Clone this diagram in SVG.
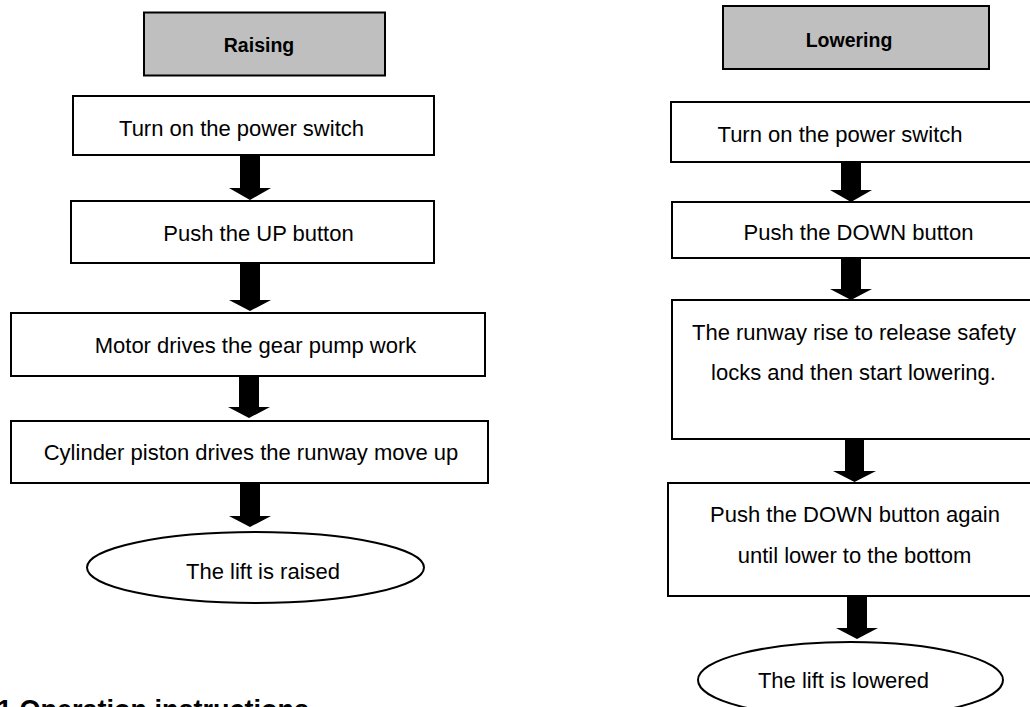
<svg xmlns="http://www.w3.org/2000/svg" width="1030" height="707" viewBox="0 0 1030 707">
<style>
.box{fill:#fff;stroke:#000;stroke-width:2}
.hdr{fill:#bfbfbf;stroke:#000;stroke-width:2}
.t{font-family:"Liberation Sans",Arial,sans-serif;font-size:22px;fill:#000;text-anchor:middle}
.h{font-family:"Liberation Sans",Arial,sans-serif;font-size:19.5px;font-weight:bold;fill:#000;text-anchor:middle}
.arr{fill:#000}
.title{font-family:"Liberation Sans",Arial,sans-serif;font-size:27px;font-weight:bold;fill:#000}
</style>
<rect width="1030" height="707" fill="#fff"/>
<g id="raising">
<rect class="hdr" x="144" y="12.5" width="241" height="63"/>
<text class="h" x="259" y="52">Raising</text>
</g>
<g id="r1">
<rect class="box" x="73" y="96" width="361" height="59"/>
<text class="t" x="241.5" y="136">Turn on the power switch</text>
</g>
<g id="r2">
<rect class="box" x="71" y="201" width="363" height="62"/>
<text class="t" x="258.5" y="241">Push the UP button</text>
</g>
<g id="r3">
<rect class="box" x="11" y="313" width="474" height="63"/>
<text class="t" x="255.5" y="353">Motor drives the gear pump work</text>
</g>
<g id="r4">
<rect class="box" x="11" y="421" width="477" height="62"/>
<text class="t" x="251" y="460">Cylinder piston drives the runway move up</text>
</g>
<g id="r5">
<ellipse class="box" cx="255.5" cy="567.5" rx="168.5" ry="35.5"/>
<text class="t" x="263" y="579">The lift is raised</text>
</g>
<g id="lowering">
<rect class="hdr" x="723" y="6" width="266" height="63"/>
<text class="h" x="849" y="47">Lowering</text>
</g>
<g id="l1">
<rect class="box" x="671" y="102" width="365" height="60"/>
<text class="t" x="840" y="142">Turn on the power switch</text>
</g>
<g id="l2">
<rect class="box" x="672" y="202" width="364" height="56"/>
<text class="t" x="858.5" y="240">Push the DOWN button</text>
</g>
<g id="l3">
<rect class="box" x="672" y="300" width="364" height="139"/>
<text class="t" x="854" y="340">The runway rise to release safety</text>
<text class="t" x="853.5" y="380">locks and then start lowering.</text>
</g>
<g id="l4">
<rect class="box" x="668" y="483" width="368" height="113"/>
<text class="t" x="855" y="522">Push the DOWN button again</text>
<text class="t" x="854.5" y="563">until lower to the bottom</text>
</g>
<g id="l5">
<ellipse class="box" cx="850.5" cy="680" rx="152.5" ry="38"/>
<text class="t" x="843.5" y="688">The lift is lowered</text>
</g>
<g id="connectors">
<polygon class="arr" points="240,155 260,155 260,188 271,188 250,200 229,188 240,188"/>
<polygon class="arr" points="240,263 260,263 260,300 271,300 250,311 229,300 240,300"/>
<polygon class="arr" points="239,376 259,376 259,407 270,407 249,418 228,407 239,407"/>
<polygon class="arr" points="240,483 260,483 260,516 271,516 250,527 229,516 240,516"/>
<polygon class="arr" points="841,162 861,162 861,190 872,190 851,202 830,190 841,190"/>
<polygon class="arr" points="841,258 861,258 861,289 872,289 851,300 830,289 841,289"/>
<polygon class="arr" points="845,439 864,439 864,471 876,471 854.5,482 833,471 845,471"/>
<polygon class="arr" points="847,596 867,596 867,628 878,628 857,639 836,628 847,628"/>
</g>
<text class="title" x="-3" y="719">1 Operation instructions</text>
</svg>
